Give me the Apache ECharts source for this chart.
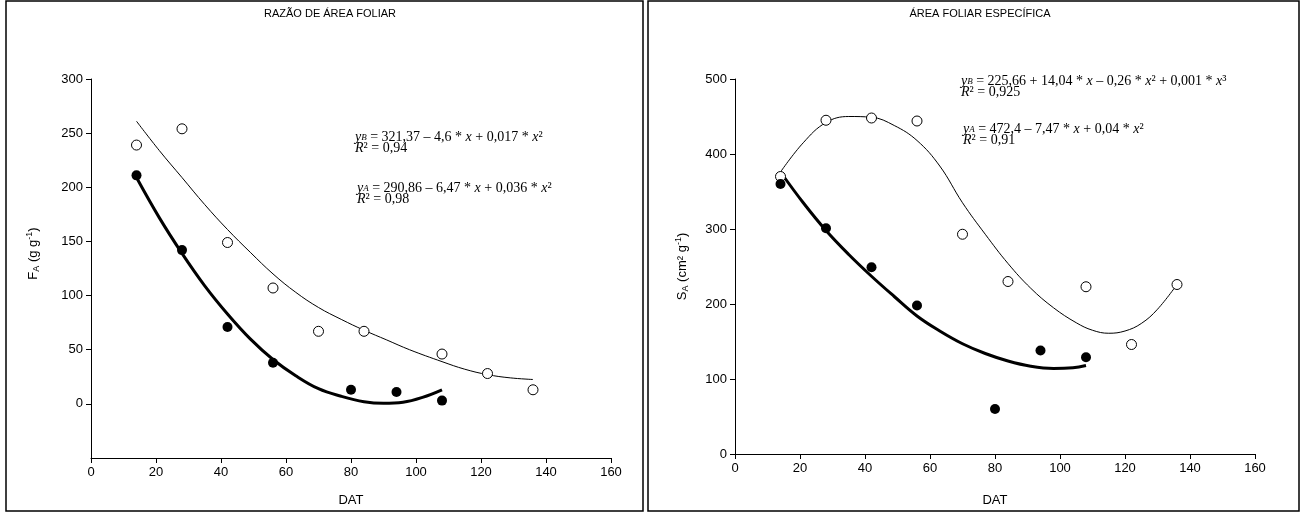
<!DOCTYPE html>
<html>
<head>
<meta charset="utf-8">
<script src="https://cdn.jsdelivr.net/npm/echarts@6/dist/echarts.min.js"></script>
<style>
html,body{margin:0;padding:0;background:#fff;}
#c{width:1303px;height:513px;}
</style>
</head>
<body>
<div id="c"></div>
<script>
// ---------- DATA ----------
const xTicks = [0, 20, 40, 60, 80, 100, 120, 140, 160];
const faTicks = [0, 50, 100, 150, 200, 250, 300];
const saTicks = [0, 100, 200, 300, 400, 500];

// Razão de área foliar (FA) - observed points
const faOpenB = [[14,239],[28,254],[42,149],[56,107],[70,67],[84,67],[108,46],[122,28],[136,13]];
const faFilledA = [[14,211],[28,142],[42,71],[56,38],[80,13],[94,11],[108,3]];
// fitted curves
const faCurveB = [[14,261],[21,234],[28,209],[35,184],[42,161],[49,140],[56,120],[63,103],[70,89],[77,78],[84,68],[91,59],[98,50],[108,39],[115,32],[122,27],[129,24],[136,22.5]];
const faCurveA = [[14,209],[21,172],[28,139],[35,109],[42,83],[49,60],[56,41],[63,26],[70,14],[77,7],[84,2],[90,0.5],[96,1.5],[102,6],[108,13]];

// Área foliar específica (SA) - observed points
const saOpenB = [[14,370],[28,445],[42,448],[56,444],[70,293],[84,230],[108,223],[122,146],[136,226]];
const saFilledA = [[14,360],[28,301],[42,249],[56,198],[80,60],[94,138],[108,129]];
const saCurveB = [[14,376],[21,415],[28,442],[35,450],[42,449],[49,438],[56,418],[63,384],[70,335],[77,293],[84,254],[91,221],[98,195],[105,175],[110,165],[115,161],[120,164],[125,174],[130,193],[136,226]];
const saCurveA = [[14,376],[21,335],[28,298],[35,266],[42,237],[49,210],[56,184],[63,164],[70,147],[77,134],[84,124],[91,117],[98,114],[104,115],[108,118]];

// Texts
const titleLeft = 'RAZÃO DE ÁREA FOLIAR';
const titleRight = 'ÁREA FOLIAR ESPECÍFICA';
const xName = 'DAT';

// ---------- CHART ----------
const chart = echarts.init(document.getElementById('c'));
const sans = 'Liberation Sans, Arial, sans-serif';
const serif = 'Liberation Serif, Times New Roman, serif';

function xAxisCfg(gi, gap) {
  return {
    gridIndex: gi, type: 'value', min: 0, max: 160, interval: 20,
    name: xName, nameLocation: 'middle', nameGap: gap,
    nameTextStyle: {fontFamily: sans, fontSize: 13, color: '#000'},
    axisLine: {show: true, onZero: false, lineStyle: {color: '#000', width: 1}},
    axisTick: {show: true, length: 5, lineStyle: {color: '#000'}},
    axisLabel: {fontFamily: sans, fontSize: 13, color: '#000', margin: 8},
    splitLine: {show: false}
  };
}
const richName = {
  n: {fontFamily: sans, fontSize: 13, color: '#000', lineHeight: 16},
  sub: {fontFamily: sans, fontSize: 9, color: '#000', lineHeight: 16, verticalAlign: 'bottom'},
  sup: {fontFamily: sans, fontSize: 9, color: '#000', lineHeight: 16, verticalAlign: 'top'}
};

const eqRich = {
  i: {fontFamily: serif, fontSize: 14, fontStyle: 'italic', color: '#000', lineHeight: 11},
  n: {fontFamily: serif, fontSize: 14, color: '#000', lineHeight: 11},
  sub: {fontFamily: serif, fontSize: 9, fontStyle: 'italic', color: '#000', lineHeight: 11, verticalAlign: 'bottom'}
};
function eq(x, y, text) {
  return {type: 'text', left: x, top: y, style: {text: text, rich: eqRich, fill: '#000'}};
}

const option = {
  backgroundColor: '#fff',
  animation: false,
  title: [
    {text: titleLeft, left: 325, top: 3, textAlign: 'center', textStyle: {fontFamily: sans, fontSize: 11, fontWeight: 'normal', color: '#000'}},
    {text: titleRight, left: 975, top: 3, textAlign: 'center', textStyle: {fontFamily: sans, fontSize: 11, fontWeight: 'normal', color: '#000'}}
  ],
  grid: [
    {left: 91, top: 79, width: 520, height: 379},
    {left: 735, top: 79, width: 520, height: 375}
  ],
  xAxis: [xAxisCfg(0, 36), xAxisCfg(1, 40)],
  yAxis: [
    {
      gridIndex: 0, type: 'value', min: -50, max: 300, interval: 50,
      name: '{n|F}{sub|A}{n| (g g}{sup|-1}{n|)}', nameLocation: 'middle', nameGap: 50,
      nameTextStyle: {rich: richName, padding: [0, 0, 0, 30]},
      axisLine: {show: true, onZero: false, lineStyle: {color: '#000'}},
      axisTick: {show: true, length: 5, lineStyle: {color: '#000'}, customValues: faTicks},
      axisLabel: {fontFamily: sans, fontSize: 13, color: '#000', margin: 8, customValues: faTicks},
      splitLine: {show: false}
    },
    {
      gridIndex: 1, type: 'value', min: 0, max: 500, interval: 100,
      name: '{n|S}{sub|A}{n| (cm² g}{sup|-1}{n|)}', nameLocation: 'middle', nameGap: 45,
      nameTextStyle: {rich: richName},
      axisLine: {show: true, onZero: false, lineStyle: {color: '#000'}},
      axisTick: {show: true, length: 5, lineStyle: {color: '#000'}},
      axisLabel: {fontFamily: sans, fontSize: 13, color: '#000', margin: 8},
      splitLine: {show: false}
    }
  ],
  series: [
    {type: 'line', xAxisIndex: 0, yAxisIndex: 0, data: faCurveB, smooth: 0.4, showSymbol: false, lineStyle: {color: '#000', width: 1}, z: 2},
    {type: 'line', xAxisIndex: 0, yAxisIndex: 0, data: faCurveA, smooth: 0.4, showSymbol: false, lineStyle: {color: '#000', width: 3}, z: 2},
    {type: 'scatter', xAxisIndex: 0, yAxisIndex: 0, data: faOpenB, symbol: 'circle', symbolSize: 10, itemStyle: {color: '#fff', borderColor: '#000', borderWidth: 1, opacity: 1}, z: 3},
    {type: 'scatter', xAxisIndex: 0, yAxisIndex: 0, data: faFilledA, symbol: 'circle', symbolSize: 10, itemStyle: {color: '#000', opacity: 1}, z: 3},
    {type: 'line', xAxisIndex: 1, yAxisIndex: 1, data: saCurveB, smooth: 0.4, showSymbol: false, lineStyle: {color: '#000', width: 1}, z: 2},
    {type: 'line', xAxisIndex: 1, yAxisIndex: 1, data: saCurveA, smooth: 0.4, showSymbol: false, lineStyle: {color: '#000', width: 3}, z: 2},
    {type: 'scatter', xAxisIndex: 1, yAxisIndex: 1, data: saOpenB, symbol: 'circle', symbolSize: 10, itemStyle: {color: '#fff', borderColor: '#000', borderWidth: 1, opacity: 1}, z: 3},
    {type: 'scatter', xAxisIndex: 1, yAxisIndex: 1, data: saFilledA, symbol: 'circle', symbolSize: 10, itemStyle: {color: '#000', opacity: 1}, z: 3}
  ],
  graphic: [
    {type: 'rect', shape: {x: 6, y: 1, width: 637, height: 510}, style: {fill: 'none', stroke: '#000', lineWidth: 1.5}},
    {type: 'rect', shape: {x: 648, y: 1, width: 651, height: 510}, style: {fill: 'none', stroke: '#000', lineWidth: 1.5}},
    eq(355, 130, '{i|y}{sub|B}{n| = 321,37 – 4,6 * }{i|x}{n| + 0,017 * }{i|x}{n|²}\n{i|R}{n|² = 0,94}'),
    eq(357, 181, '{i|y}{sub|A}{n| = 290,86 – 6,47 * }{i|x}{n| + 0,036 * }{i|x}{n|²}\n{i|R}{n|² = 0,98}'),
    eq(961, 74, '{i|y}{sub|B}{n| = 225,66 + 14,04 * }{i|x}{n| – 0,26 * }{i|x}{n|² + 0,001 * }{i|x}{n|³}\n{i|R}{n|² = 0,925}'),
    eq(963, 122, '{i|y}{sub|A}{n| = 472,4 – 7,47 * }{i|x}{n| + 0,04 * }{i|x}{n|²}\n{i|R}{n|² = 0,91}')
  ]
};
chart.setOption(option);
</script>
</body>
</html>
